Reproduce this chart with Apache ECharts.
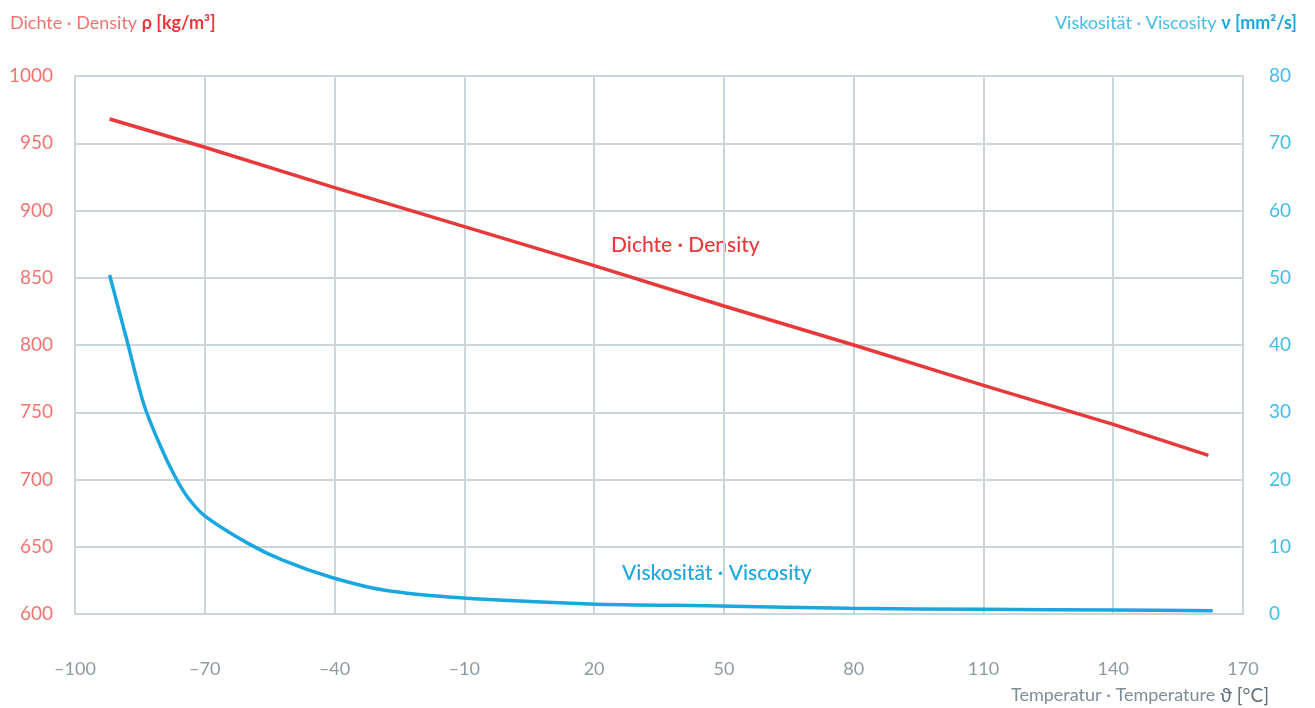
<!DOCTYPE html>
<html>
<head>
<meta charset="utf-8">
<script src="https://cdn.jsdelivr.net/npm/echarts@6/dist/echarts.min.js"></script>
<style>
html,body{margin:0;padding:0;background:#fff;}
#chart{width:1315px;height:708px;}
</style>
</head>
<body>
<div id="chart"></div>
<script>
// Temperature axis ticks (°C)
const tempMin = -100;
const tempMax = 170;
const tempStep = 30;
// Density ρ [kg/m³] vs temperature
const densityTemp = [-92, -70, -40, -10, 20, 50, 80, 110, 140, 162];
const densityValues = [968, 947, 917, 888, 859, 829, 800, 770, 741, 718];
// Viscosity ν [mm²/s] vs temperature
const viscTemp = [-92, -88, -84, -80, -77, -74, -70, -60, -52, -41, -29, -11, 19, 49, 79, 110, 140, 163];
const viscValues = [50.4, 40.7, 31.0, 24.6, 20.6, 17.4, 14.6, 10.5, 8.0, 5.5, 3.6, 2.4, 1.5, 1.2, 0.85, 0.7, 0.6, 0.5];
// Left / right axis ranges
const densityAxis = [600, 1000, 50];
const viscAxis = [0, 80, 10];

// x axis is drawn with an offset so ticks start at tempMin
const OFFSET = -tempMin;
const FONT = 'Lato, "Open Sans", sans-serif';
const RED = '#e8393a', RED_L = '#f07470', BLUE = '#1aa7e0', BLUE_L = '#46bbe8', GRID = '#cdd5db', GREY = '#8e9aa3';

const densityData = densityTemp.map((t, i) => [t + OFFSET, densityValues[i]]);
const viscData = viscTemp.map((t, i) => [t + OFFSET, viscValues[i]]);

const chart = echarts.init(document.getElementById('chart'), null, {renderer: 'canvas'});
chart.setOption({
  animation: false,
  backgroundColor: '#fff',
  grid: {left: 75, right: 72, top: 76, bottom: 94, show: false},
  xAxis: {
    type: 'value', min: 0, max: tempMax - tempMin, interval: tempStep,
    axisLine: {show: true, lineStyle: {color: GRID, width: 2}},
    axisTick: {show: false},
    splitLine: {show: true, lineStyle: {color: GRID, width: 2}},
    axisLabel: {
      margin: 46, color: GREY, fontSize: 18, fontFamily: FONT,
      formatter: v => { const t = v - OFFSET; return t < 0 ? '\u2013' + Math.abs(t) : String(t); }
    }
  },
  yAxis: [{
    type: 'value', min: densityAxis[0], max: densityAxis[1], interval: densityAxis[2],
    axisLine: {show: true, lineStyle: {color: GRID, width: 2}},
    axisTick: {show: false},
    splitLine: {show: true, lineStyle: {color: GRID, width: 2}},
    axisLabel: {margin: 22, color: RED_L, fontSize: 19, fontFamily: FONT, formatter: v => String(v)}
  }, {
    type: 'value', min: viscAxis[0], max: viscAxis[1], interval: viscAxis[2], position: 'right',
    axisLine: {show: true, lineStyle: {color: GRID, width: 2}},
    axisTick: {show: false},
    splitLine: {show: false},
    axisLabel: {margin: 26, color: BLUE_L, fontSize: 19, fontFamily: FONT, formatter: v => String(v)}
  }],
  series: [{
    type: 'line', name: 'Dichte', yAxisIndex: 0, data: densityData,
    showSymbol: false, lineStyle: {color: RED, width: 3.5}, z: 3
  }, {
    type: 'line', name: 'Viskosität', yAxisIndex: 1, data: viscData,
    showSymbol: false, smooth: 0.3,
    lineStyle: {color: BLUE, width: 3.5}, z: 3
  }],
  graphic: [
    {type: 'text', left: 10, top: 14, style: {
      text: '{a|Dichte · Density }{b|ρ [kg/m³]}',
      rich: {a: {fill: RED_L, fontSize: 18, fontFamily: FONT}, b: {fill: RED, fontSize: 18, fontWeight: 'bold', fontFamily: FONT}}
    }},
    {type: 'text', right: 18, top: 14, style: {
      text: '{a|Viskosität · Viscosity }{b|ν [mm²/s]}',
      rich: {a: {fill: BLUE_L, fontSize: 18, fontFamily: FONT}, b: {fill: BLUE, fontSize: 18, fontWeight: 'bold', fontFamily: FONT}}
    }},
    {type: 'text', right: 46, top: 686, style: {
      text: '{a|Temperatur · Temperature }{b|ϑ [°C]}',
      rich: {a: {fill: '#7f8d97', fontSize: 18, fontFamily: FONT}, b: {fill: '#5f6e78', fontSize: 19, fontFamily: FONT}}
    }},
    {type: 'text', left: 611, top: 235, style: {
      text: 'Dichte · Density', fill: RED, fontSize: 21, fontWeight: 500, fontFamily: FONT
    }},
    {type: 'text', left: 622, top: 563, style: {
      text: 'Viskosität · Viscosity', fill: BLUE, fontSize: 21, fontWeight: 500, fontFamily: FONT
    }}
  ]
});
</script>
</body>
</html>
